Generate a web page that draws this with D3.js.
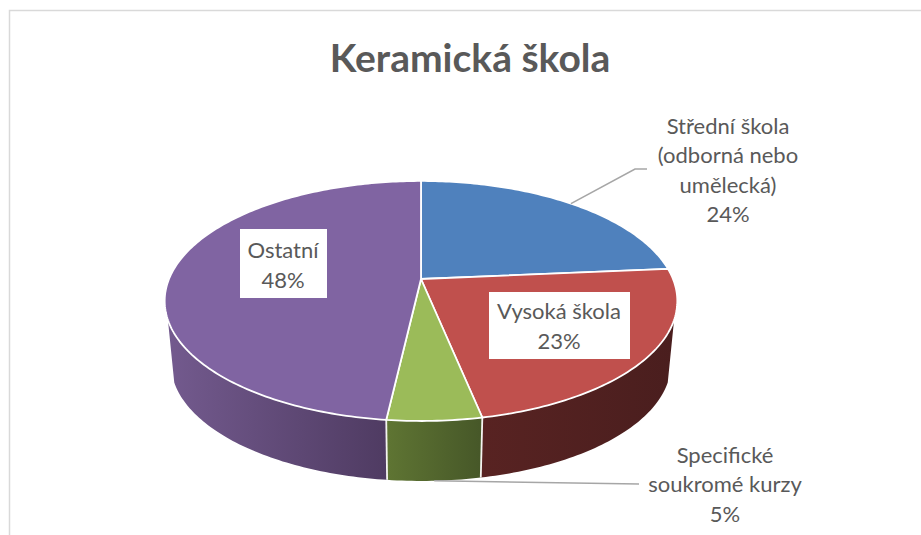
<!DOCTYPE html>
<html><head><meta charset="utf-8">
<script src="https://cdn.jsdelivr.net/npm/d3@7"></script>
<style>html,body{margin:0;padding:0;background:#fff}svg{display:block}text{font-family:Lato,"Open Sans",sans-serif;fill:#595959;text-anchor:middle}</style>
</head><body><svg id="c" width="921" height="535"></svg>
<script>
const titleText = "Keramická škola";
const categories = ["Střední škola (odborná nebo umělecká)", "Vysoká škola", "Specifické soukromé kurzy", "Ostatní"];
const values = [23.6, 23.2, 5.0, 48.2];
const colors = ["#4f81bd", "#c0504d", "#9bbb59", "#8064a2"];
const labelLines = [["Střední škola", "(odborná nebo", "umělecká)"], ["Vysoká škola"], ["Specifické", "soukromé kurzy"], ["Ostatní"]];
const wallStops = [["#4f81bd", "#3a5f8c"], ["#582322", "#4a1e1e"], ["#5f7533", "#465728"], ["#735a8e", "#4f3b62"]];

(function () {
const svg = d3.select("#c");
const W = 921, H = 535;
// chart frame
svg.append("path").attr("d", `M9.5 ${H}V10.5H${W}`).attr("fill", "none").attr("stroke", "#d9d9d9").attr("stroke-width", 1.5);
svg.append("text").attr("x", 470).attr("y", 72).attr("font-size", 39).attr("font-weight", 700).text(titleText);

// perspective projection of the unit disc
const cx = 421, cy = 279, A = 252, B = 116, K = 0.183, wallScale = 0.975, wallDrop = 63.5;
function topPt(t) {
  const x = Math.sin(t), y = -Math.cos(t), w = 1 - K * y;
  return [cx + A * x / w, cy + B * y / w];
}
function botPt(t) {
  const [x, y] = topPt(t);
  return [cx + (x - cx) * wallScale, cy + (y - cy) * wallScale + wallDrop];
}
const arcs = d3.pie().sort(null).value(d => d)(values);
const samples = (a, b) => { const n = Math.max(2, Math.ceil(Math.abs(b - a) * 60)); return d3.range(n + 1).map(i => a + (b - a) * i / n); };
const line = d3.line();

const defs = svg.append("defs");
wallStops.forEach((s, i) => {
  const g = defs.append("linearGradient").attr("id", "w" + i).attr("x1", 0).attr("x2", 1).attr("y1", 0).attr("y2", 0);
  g.append("stop").attr("offset", 0).attr("stop-color", s[0]);
  g.append("stop").attr("offset", 1).attr("stop-color", s[1]);
});

// visible wall range
const visA = 109.4 * Math.PI / 180, visB = 250.6 * Math.PI / 180;
[3, 2, 1, 0].forEach(i => {
  const a = Math.max(arcs[i].startAngle, visA), b = Math.min(arcs[i].endAngle, visB);
  if (b <= a) return;
  const ts = samples(a, b);
  const pts = ts.map(topPt).concat(ts.slice().reverse().map(botPt));
  svg.append("path").attr("d", line(pts) + "Z").attr("fill", `url(#w${i})`);
});
// wall separators
arcs.slice(0, 3).forEach(d => {
  const t = d.endAngle;
  if (t > visA && t < visB) svg.append("path").attr("d", line([topPt(t), botPt(t)])).attr("stroke", "#f4f4f0").attr("stroke-width", 1.8).attr("fill", "none");
});
// top face
arcs.forEach((d, i) => {
  const pts = [[cx, cy]].concat(samples(d.startAngle, d.endAngle).map(topPt));
  svg.append("path").attr("d", line(pts) + "Z").attr("fill", colors[i]).attr("stroke", "#fff").attr("stroke-width", 1.8).attr("stroke-linejoin", "round");
});

// leader lines
const mid = d => (d.startAngle + d.endAngle) / 2;
const leader = pts => svg.append("path").attr("d", line(pts)).attr("fill", "none").attr("stroke", "#a6a6a6").attr("stroke-width", 1.6);
leader([topPt(mid(arcs[0])), [635, 169], [647, 169]]);
leader([botPt(mid(arcs[2])), [639, 484]]);

// labels
const pct = v => Math.round(v) + "%";
const labels = [
  { i: 0, x: 728, y: 134, dy: 29.4 },
  { i: 1, x: 559, y: 319, dy: 30, box: [489, 292, 141, 67] },
  { i: 2, x: 725, y: 463, dy: 29.4 },
  { i: 3, x: 283, y: 258, dy: 30, box: [240, 229, 87, 69] }
];
labels.forEach(l => {
  if (l.box) svg.append("rect").attr("x", l.box[0]).attr("y", l.box[1]).attr("width", l.box[2]).attr("height", l.box[3]).attr("fill", "#fff");
  labelLines[l.i].concat(pct(values[l.i])).forEach((s, k) => {
    svg.append("text").attr("x", l.x).attr("y", l.y + k * l.dy).attr("font-size", 22).text(s);
  });
});
})();
</script></body></html>
